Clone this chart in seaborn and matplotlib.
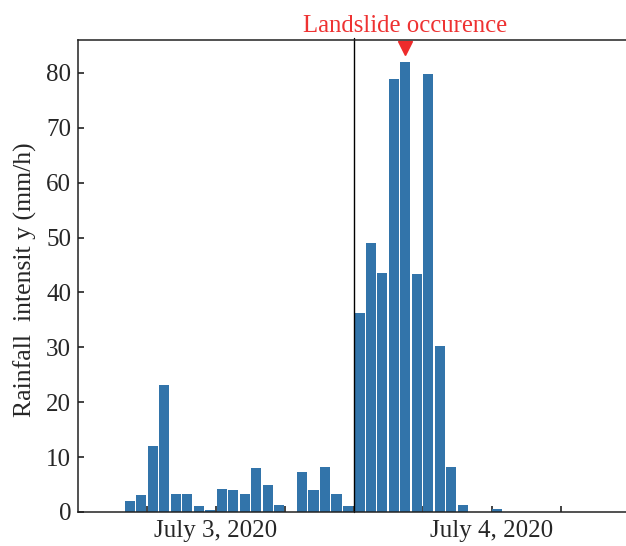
import matplotlib
matplotlib.use("Agg")
import matplotlib.pyplot as plt
import matplotlib.transforms as mtransforms
import numpy as np
import pandas as pd
import seaborn as sns

# ---- data (hourly rainfall, hour index from start of axis) ----
hours = list(range(48))
rain = [0, 0, 0, 0,
        2.0, 3.1, 12.0, 23.1, 3.3, 3.3, 1.1, 0.4, 4.2, 4.0, 3.3, 8.0,
        4.9, 1.3, 0, 7.3, 4.0, 8.2, 3.3, 1.1,
        36.3, 49.0, 43.5, 78.9, 82.0, 43.4, 79.8, 30.2, 8.2, 1.3, 0, 0,
        0.5, 0, 0, 0, 0, 0, 0, 0, 0, 0, 0, 0]
tick_hours = [6, 12, 18, 24, 30, 36, 42]
tick_labels = ["", "July 3, 2020", "", "", "", "July 4, 2020", ""]
y_ticks = [0, 10, 20, 30, 40, 50, 60, 70, 80]
divider_hour = 24
landslide_hour = 28.5
landslide_marker_y = 84.5
landslide_text = "Landslide occurence"
y_label = "Rainfall  intensit y (mm/h)"

df = pd.DataFrame({"mid": [h + 0.5 for h in hours], "rain": rain})

sns.set_style("ticks")
plt.rcParams["font.family"] = ["Liberation Serif", "DejaVu Serif"]
plt.rcParams["font.size"] = 18

fig = plt.figure(figsize=(6.26, 5.46), dpi=100)
ax = fig.add_axes([78 / 626, 1 - 512 / 546, 1 - 78 / 626, (512 - 40) / 546])

sns.barplot(data=df, x="mid", y="rain", native_scale=True, width=0.88,
            color="#3274aa", saturation=1, errorbar=None, ax=ax,
            edgecolor="none")

ax.set_xlim(0, 47.7)
ax.set_ylim(0, 86)
ax.set_xticks(tick_hours)
ax.set_xticklabels(tick_labels)
ax.set_yticks(y_ticks)
ax.set_xlabel("")
ax.set_ylabel(y_label, fontsize=18.5)
ax.yaxis.set_label_coords(-41 / 548, 0.5 - 3.5 / 472)

ax.tick_params(axis="both", direction="in", length=4.5, width=1.2,
               labelsize=18, color="#222222")
ax.tick_params(axis="y", pad=5)
ax.tick_params(axis="x", pad=6)

for side in ["left", "bottom", "top"]:
    ax.spines[side].set_visible(True)
    ax.spines[side].set_linewidth(1.1)
    ax.spines[side].set_color("#222222")
ax.spines["right"].set_visible(False)

ax.axvline(divider_hour, ymin=0, ymax=1.005, color="black", lw=1.0, clip_on=False)

ax.plot([landslide_hour], [landslide_marker_y], marker="v", color="#ee2b2b",
        markersize=10.5, linestyle="none", clip_on=False)
trans = mtransforms.blended_transform_factory(ax.transData, ax.transAxes)
ax.text(landslide_hour - 0.05, (512 - 31.7) / 472, landslide_text, color="#ee3232",
        fontsize=17.8, ha="center", va="baseline", transform=trans)

fig.savefig("out.png", dpi=100)
